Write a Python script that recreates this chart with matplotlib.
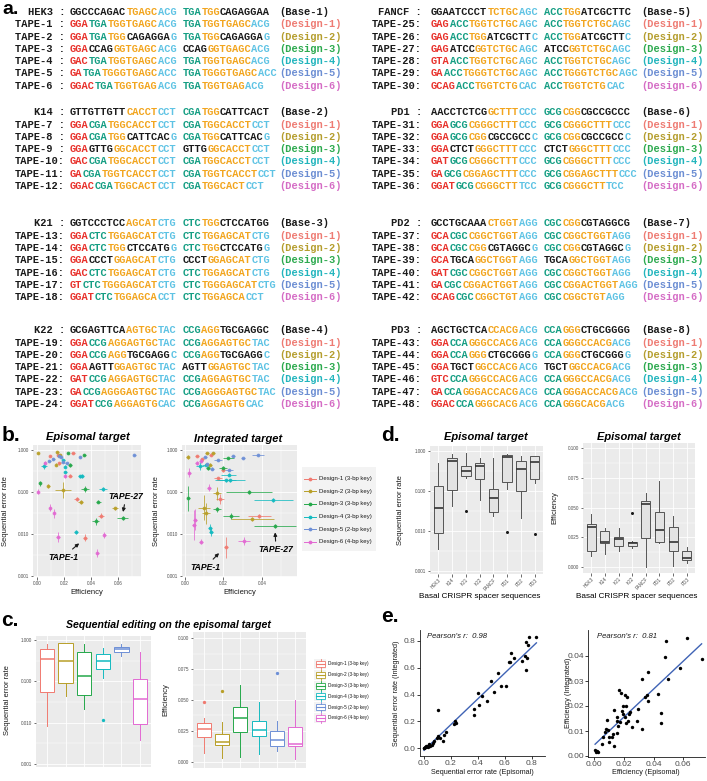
import numpy as np
import matplotlib
matplotlib.use('Agg')
import matplotlib.pyplot as plt
from matplotlib.patches import Rectangle
from matplotlib.ticker import NullFormatter

W, H = 707, 781
fig = plt.figure(figsize=(W / 100, H / 100), dpi=100)
fig.patch.set_facecolor('white')
SANS = 'Liberation Sans'
MONO = 'Liberation Mono'

# ---------------- data ----------------
design_labels = ['Design-1 (3-bp key)', 'Design-2 (3-bp key)', 'Design-3 (3-bp key)',
                 'Design-4 (3-bp key)', 'Design-5 (2-bp key)', 'Design-6 (4-bp key)']
design_colors = ['#F07A70', '#B89F28', '#25A84A', '#14BAC0', '#6D8FD6', '#E269D2']
label_colors = ['#EE7B73', '#B59E2E', '#2DAA4F', '#22B5BD', '#6C8ED3', '#D56CC5']
seq_colors = {'k': '#1a1a1a', 'r': '#E8312B', 't': '#159E83', 'o': '#F2A51E', 'b': '#5FC3E4'}
bases = ['HEK3', 'K14', 'K21', 'K22', 'FANCF', 'PD1', 'PD2', 'PD3']

block_HEK3 = [
    ("HEK3", "kGGCCCAGAC oTGAGC bACG", "tTGA oTGG kCAGAGGAA", "Base-1"),
    ("TAPE-1", "rGGA tTGA oTGGTGAGC bACG", "tTGA oTGGTGAGC bACG", "Design-1"),
    ("TAPE-2", "rGGA tTGA oTGG kCAGAGGA bG", "tTGA oTGG kCAGAGGA bG", "Design-2"),
    ("TAPE-3", "rGGA kCCAG oGGTGAGC bACG", "kCCAG oGGTGAGC bACG", "Design-3"),
    ("TAPE-4", "rGAC tTGA oTGGTGAGC bACG", "tTGA oTGGTGAGC bACG", "Design-4"),
    ("TAPE-5", "rGA tTGA oTGGGTGAGC bACC", "tTGA oTGGGTGAGC bACC", "Design-5"),
    ("TAPE-6", "rGGAC tTGA oTGGTGAG bACG", "tTGA oTGGTGAG bACG", "Design-6")]
block_K14 = [
    ("K14", "kGTTGTTGTT oCACCT bCCT", "tCGA oTGG kCATTCACT", "Base-2"),
    ("TAPE-7", "rGGA tCGA oTGGCACCT bCCT", "tCGA oTGGCACCT bCCT", "Design-1"),
    ("TAPE-8", "rGGA tCGA oTGG kCATTCAC bG", "tCGA oTGG kCATTCAC bG", "Design-2"),
    ("TAPE-9", "rGGA kGTTG oGGCACCT bCCT", "kGTTG oGGCACCT bCCT", "Design-3"),
    ("TAPE-10", "rGAC tCGA oTGGCACCT bCCT", "tCGA oTGGCACCT bCCT", "Design-4"),
    ("TAPE-11", "rGA tCGA oTGGTCACCT bCCT", "tCGA oTGGTCACCT bCCT", "Design-5"),
    ("TAPE-12", "rGGAC tCGA oTGGCACT bCCT", "tCGA oTGGCACT bCCT", "Design-6")]
block_K21 = [
    ("K21", "kGGTCCCTCC oAGCAT bCTG", "tCTC oTGG kCTCCATGG", "Base-3"),
    ("TAPE-13", "rGGA tCTC oTGGAGCAT bCTG", "tCTC oTGGAGCAT bCTG", "Design-1"),
    ("TAPE-14", "rGGA tCTC oTGG kCTCCATG bG", "tCTC oTGG kCTCCATG bG", "Design-2"),
    ("TAPE-15", "rGGA kCCCT oGGAGCAT bCTG", "kCCCT oGGAGCAT bCTG", "Design-3"),
    ("TAPE-16", "rGAC tCTC oTGGAGCAT bCTG", "tCTC oTGGAGCAT bCTG", "Design-4"),
    ("TAPE-17", "rGT tCTC oTGGGAGCAT bCTG", "tCTC oTGGGAGCAT bCTG", "Design-5"),
    ("TAPE-18", "rGGAT tCTC oTGGAGCA bCCT", "tCTC oTGGAGCA bCCT", "Design-6")]
block_K22 = [
    ("K22", "kGCGAGTTCA oAGTGC bTAC", "tCCG oAGG kTGCGAGGC", "Base-4"),
    ("TAPE-19", "rGGA tCCG oAGGAGTGC bTAC", "tCCG oAGGAGTGC bTAC", "Design-1"),
    ("TAPE-20", "rGGA tCCG oAGG kTGCGAGG bC", "tCCG oAGG kTGCGAGG bC", "Design-2"),
    ("TAPE-21", "rGGA kAGTT oGGAGTGC bTAC", "kAGTT oGGAGTGC bTAC", "Design-3"),
    ("TAPE-22", "rGAT tCCG oAGGAGTGC bTAC", "tCCG oAGGAGTGC bTAC", "Design-4"),
    ("TAPE-23", "rGA tCCG oAGGGAGTGC bTAC", "tCCG oAGGGAGTGC bTAC", "Design-5"),
    ("TAPE-24", "rGGAT tCCG oAGGAGTG bCAC", "tCCG oAGGAGTG bCAC", "Design-6")]
block_FANCF = [
    ("FANCF", "kGGAATCCCT oTCTGC bAGC", "tACC oTGG kATCGCTTC", "Base-5"),
    ("TAPE-25", "rGAG tACC oTGGTCTGC bAGC", "tACC oTGGTCTGC bAGC", "Design-1"),
    ("TAPE-26", "rGAG tACC oTGG kATCGCTT bC", "tACC oTGG kATCGCTT bC", "Design-2"),
    ("TAPE-27", "rGAG kATCC oGGTCTGC bAGC", "kATCC oGGTCTGC bAGC", "Design-3"),
    ("TAPE-28", "rGTA tACC oTGGTCTGC bAGC", "tACC oTGGTCTGC bAGC", "Design-4"),
    ("TAPE-29", "rGA tACC oTGGGTCTGC bAGC", "tACC oTGGGTCTGC bAGC", "Design-5"),
    ("TAPE-30", "rGCAG tACC oTGGTCTG bCAC", "tACC oTGGTCTG bCAC", "Design-6")]
block_PD1 = [
    ("PD1", "kAACCTCTCG oGCTTT bCCC", "tGCG oCGG kCGCCGCCC", "Base-6"),
    ("TAPE-31", "rGGA tGCG oCGGGCTTT bCCC", "tGCG oCGGGCTTT bCCC", "Design-1"),
    ("TAPE-32", "rGGA tGCG oCGG kCGCCGCC bC", "tGCG oCGG kCGCCGCC bC", "Design-2"),
    ("TAPE-33", "rGGA kCTCT oGGGCTTT bCCC", "kCTCT oGGGCTTT bCCC", "Design-3"),
    ("TAPE-34", "rGAT tGCG oCGGGCTTT bCCC", "tGCG oCGGGCTTT bCCC", "Design-4"),
    ("TAPE-35", "rGA tGCG oCGGAGCTTT bCCC", "tGCG oCGGAGCTTT bCCC", "Design-5"),
    ("TAPE-36", "rGGAT tGCG oCGGGCTT bTCC", "tGCG oCGGGCTT bTCC", "Design-6")]
block_PD2 = [
    ("PD2", "kGCCTGCAAA oCTGGT bAGG", "tCGC oCGG kCGTAGGCG", "Base-7"),
    ("TAPE-37", "rGCA tCGC oCGGCTGGT bAGG", "tCGC oCGGCTGGT bAGG", "Design-1"),
    ("TAPE-38", "rGCA tCGC oCGG kCGTAGGC bG", "tCGC oCGG kCGTAGGC bG", "Design-2"),
    ("TAPE-39", "rGCA kTGCA oGGCTGGT bAGG", "kTGCA oGGCTGGT bAGG", "Design-3"),
    ("TAPE-40", "rGAT tCGC oCGGCTGGT bAGG", "tCGC oCGGCTGGT bAGG", "Design-4"),
    ("TAPE-41", "rGA tCGC oCGGACTGGT bAGG", "tCGC oCGGACTGGT bAGG", "Design-5"),
    ("TAPE-42", "rGCAG tCGC oCGGCTGT bAGG", "tCGC oCGGCTGT bAGG", "Design-6")]
block_PD3 = [
    ("PD3", "kAGCTGCTCA oCCACG bACG", "tCCA oGGG kCTGCGGGG", "Base-8"),
    ("TAPE-43", "rGGA tCCA oGGGCCACG bACG", "tCCA oGGGCCACG bACG", "Design-1"),
    ("TAPE-44", "rGGA tCCA oGGG kCTGCGGG bG", "tCCA oGGG kCTGCGGG bG", "Design-2"),
    ("TAPE-45", "rGGA kTGCT oGGCCACG bACG", "kTGCT oGGCCACG bACG", "Design-3"),
    ("TAPE-46", "rGTC tCCA oGGGCCACG bACG", "tCCA oGGGCCACG bACG", "Design-4"),
    ("TAPE-47", "rGA tCCA oGGGACCACG bACG", "tCCA oGGGACCACG bACG", "Design-5"),
    ("TAPE-48", "rGGAC tCCA oGGGCACG bACG", "tCCA oGGGCACG bACG", "Design-6")]

# panel b: per design (8 targets each): efficiency, error rate, x-error, y-error (log10 units)
epi_eff = [[0.0356, 0.0096, 0.0158, 0.0264, 0.0166, 0.0244, 0.0294, 0.0474],
           [0.001, 0.015, 0.0084, 0.019, 0.0323, 0.0578, 0.014, 0.017],
           [0.023, 0.0244, 0.0351, 0.0022, 0.0635, 0.0356, 0.0454, 0.0435],
           [0.0052, 0.0195, 0.0207, 0.0331, 0.0486, 0.029, 0.0315, 0.021],
           [0.0091, 0.0178, 0.019, 0.0319, 0.072, 0.012, 0.022, 0.016],
           [0.006, 0.0207, 0.0005, 0.0096, 0.0126, 0.0153, 0.0499, 0.0447]]
epi_err = [[0.0082, 0.73, 0.77, 0.83, 0.48, 0.245, 0.067, 0.0275],
           [0.83, 0.88, 0.139, 0.112, 0.059, 0.041, 0.45, 0.75],
           [0.83, 0.44, 0.77, 0.16, 0.024, 0.118, 0.059, 0.020],
           [0.42, 0.58, 0.40, 0.24, 0.116, 0.0114, 0.235, 0.30],
           [0.55, 0.67, 0.53, 0.69, 0.77, 0.62, 0.48, 0.72],
           [0.50, 0.24, 0.102, 0.042, 0.031, 0.0087, 0.0095, 0.0035]]
epi_xerr = [[0.0015, 0.001, 0.001, 0.0015, 0.001, 0.0015, 0.002, 0.002],
            [0.0008, 0.001, 0.001, 0.006, 0.002, 0.002, 0.001, 0.001],
            [0.001, 0.0015, 0.001, 0.001, 0.004, 0.003, 0.002, 0.0025],
            [0.002, 0.001, 0.001, 0.0015, 0.003, 0.0015, 0.0015, 0.001],
            [0.001, 0.001, 0.001, 0.001, 0.001, 0.001, 0.001, 0.001],
            [0.0008, 0.001, 0.0008, 0.001, 0.001, 0.0015, 0.001, 0.001]]
epi_yerr = [[0.08, 0.02, 0.02, 0.02, 0.03, 0.03, 0.05, 0.05],
            [0.02, 0.02, 0.04, 0.2, 0.05, 0.04, 0.03, 0.02],
            [0.02, 0.04, 0.02, 0.06, 0.04, 0.08, 0.04, 0.08],
            [0.08, 0.03, 0.03, 0.04, 0.05, 0.05, 0.03, 0.03],
            [0.03, 0.02, 0.03, 0.02, 0.02, 0.02, 0.02, 0.02],
            [0.04, 0.05, 0.06, 0.08, 0.1, 0.12, 0.08, 0.1]]
int_eff = [[0.0213, 0.0061, 0.0133, 0.0196, 0.0173, 0.0182, 0.0386, 0.009],
           [0.0014, 0.0113, 0.0147, 0.0168, 0.010, 0.0109, 0.035, 0.013],
           [0.0196, 0.0225, 0.0017, 0.0165, 0.0468, 0.0334, 0.0239, 0.012],
           [0.0078, 0.0109, 0.0227, 0.0234, 0.0215, 0.0459, 0.013, 0.0135],
           [0.0104, 0.0114, 0.0139, 0.0173, 0.023, 0.0251, 0.0303, 0.038],
           [0.0083, 0.0022, 0.0126, 0.0048, 0.0052, 0.0085, 0.0308, 0.006]]
int_err = [[0.0048, 0.71, 0.77, 0.33, 0.21, 0.067, 0.027, 0.60],
           [0.69, 0.83, 0.85, 0.093, 0.042, 0.031, 0.023, 0.45],
           [0.38, 0.64, 0.071, 0.039, 0.0155, 0.098, 0.027, 0.37],
           [0.42, 0.44, 0.26, 0.19, 0.19, 0.064, 0.0137, 0.011],
           [0.69, 0.47, 0.36, 0.57, 0.33, 0.71, 0.63, 0.77],
           [0.55, 0.29, 0.127, 0.0163, 0.022, 0.0066, 0.0069, 0.48]]
int_xerr = [[0.001, 0.001, 0.001, 0.001, 0.002, 0.002, 0.006, 0.001],
            [0.0008, 0.001, 0.001, 0.002, 0.003, 0.002, 0.011, 0.001],
            [0.002, 0.003, 0.0008, 0.002, 0.011, 0.012, 0.004, 0.001],
            [0.002, 0.002, 0.004, 0.008, 0.005, 0.010, 0.001, 0.001],
            [0.001, 0.001, 0.001, 0.002, 0.002, 0.001, 0.001, 0.003],
            [0.001, 0.0008, 0.001, 0.001, 0.001, 0.001, 0.003, 0.001]]
int_yerr = [[0.25, 0.02, 0.02, 0.04, 0.04, 0.12, 0.05, 0.03],
            [0.05, 0.02, 0.02, 0.15, 0.3, 0.25, 0.05, 0.03],
            [0.04, 0.02, 0.3, 0.06, 0.04, 0.05, 0.08, 0.04],
            [0.1, 0.03, 0.03, 0.03, 0.03, 0.04, 0.1, 0.1],
            [0.02, 0.03, 0.03, 0.02, 0.03, 0.02, 0.02, 0.02],
            [0.05, 0.1, 0.08, 0.35, 0.25, 0.05, 0.1, 0.05]]

# panel c: box statistics per design (episomal)
c_err_stats = {'whislo': [0.0085, 0.043, 0.021, 0.118, 0.42, 0.0038],
               'q1': [0.055, 0.093, 0.048, 0.195, 0.51, 0.0091],
               'med': [0.34, 0.31, 0.137, 0.31, 0.60, 0.0367],
               'q3': [0.59, 0.83, 0.52, 0.47, 0.69, 0.114],
               'whishi': [0.79, 0.83, 0.82, 0.63, 0.79, 0.52],
               'fliers': [[], [], [], [0.0116], [], []]}
c_eff_stats = {'whislo': [0.0072, 0.0027, 0.0037, 0.0067, 0.0086, 0.0019],
               'q1': [0.020, 0.0139, 0.024, 0.0206, 0.013, 0.0126],
               'med': [0.0265, 0.0163, 0.0358, 0.026, 0.0174, 0.0147],
               'q3': [0.0313, 0.0227, 0.044, 0.0334, 0.025, 0.0278],
               'whishi': [0.0358, 0.0326, 0.062, 0.0487, 0.033, 0.0497],
               'fliers': [[0.048], [0.057], [], [], [0.072], []]}

# panel d: box statistics per basal spacer (episomal)
d_err_stats = {'whislo': [0.0036, 0.041, 0.21, 0.059, 0.024, 0.11, 0.021, 0.16],
               'q1': [0.0087, 0.104, 0.236, 0.20, 0.030, 0.166, 0.098, 0.20],
               'med': [0.037, 0.57, 0.32, 0.42, 0.066, 0.69, 0.35, 0.54],
               'q3': [0.13, 0.65, 0.42, 0.49, 0.11, 0.78, 0.56, 0.75],
               'whishi': [0.50, 0.82, 0.87, 0.65, 0.68, 0.82, 0.76, 0.76],
               'fliers': [[], [], [0.032], [], [], [0.0094], [], [0.0084]]}
d_eff_stats = {'whislo': [0.0095, 0.0112, 0.0137, 0.0162, 0.0006, 0.020, 0.0012, 0.0036],
               'q1': [0.014, 0.0202, 0.0182, 0.018, 0.0249, 0.0216, 0.0137, 0.0065],
               'med': [0.0336, 0.0216, 0.0235, 0.0202, 0.0532, 0.0314, 0.0216, 0.0075],
               'q3': [0.0364, 0.030, 0.0258, 0.0213, 0.0557, 0.0462, 0.0336, 0.0138],
               'whishi': [0.0448, 0.0328, 0.0328, 0.0224, 0.062, 0.072, 0.0434, 0.0168],
               'fliers': [[], [], [], [0.0454], [], [], [], []]}

# panel e: episomal vs integrated
e_err_epi = [0.835, 0.78, 0.76, 0.77, 0.65, 0.63, 0.64, 0.67, 0.73, 0.75, 0.765, 0.76, 0.55, 0.50,
             0.52, 0.57, 0.61, 0.47, 0.43, 0.40, 0.41, 0.37, 0.37, 0.23, 0.235, 0.22, 0.106, 0.14,
             0.15, 0.16, 0.106, 0.118, 0.094, 0.072, 0.037, 0.057, 0.02, 0.012, 0.027, 0.044,
             0.002, 0.007, 0.07, 0.015, 0.0]
e_err_int = [0.83, 0.83, 0.79, 0.77, 0.706, 0.64, 0.645, 0.67, 0.65, 0.69, 0.674, 0.58, 0.56, 0.50,
             0.42, 0.46, 0.46, 0.355, 0.39, 0.41, 0.32, 0.29, 0.25, 0.205, 0.186, 0.18, 0.285, 0.057,
             0.099, 0.12, 0.094, 0.08, 0.08, 0.055, 0.032, 0.025, 0.017, 0.007, 0.012, 0.02,
             0.005, 0.01, 0.037, 0.015, 0.005]
e_eff_epi = [0.0624, 0.0484, 0.0477, 0.0725, 0.0579, 0.05, 0.036, 0.0324, 0.0354, 0.0342, 0.036,
             0.0428, 0.0448, 0.0448, 0.0324, 0.0286, 0.0293, 0.0241, 0.0214, 0.0218, 0.0207, 0.0167,
             0.018, 0.0191, 0.0185, 0.0196, 0.0207, 0.0234, 0.0252, 0.0212, 0.0225, 0.0173, 0.0155,
             0.0151, 0.0162, 0.0133, 0.0122, 0.0151, 0.0128, 0.0095, 0.0101, 0.0088, 0.0077, 0.0072,
             0.0061, 0.0099, 0.0135, 0.005, 0.0005, 0.0014, 0.0027, 0.002]
e_eff_int = [0.0473, 0.0461, 0.0395, 0.0387, 0.0353, 0.0308, 0.0337, 0.0308, 0.0244, 0.0237, 0.0221,
             0.0247, 0.0171, 0.0133, 0.011, 0.014, 0.0188, 0.0177, 0.0201, 0.0237, 0.0244, 0.0264,
             0.0253, 0.0201, 0.018, 0.0167, 0.0157, 0.0167, 0.0117, 0.0131, 0.014, 0.0135, 0.0157,
             0.014, 0.0121, 0.0184, 0.0077, 0.0091, 0.0088, 0.0104, 0.0077, 0.0144, 0.0108, 0.0097,
             0.0077, 0.0055, 0.004, 0.0047, 0.0024, 0.0017, 0.0017, 0.002]
pearson_err = "Pearson's r:  0.98"
pearson_eff = "Pearson's r:  0.81"

# ---------------- helpers ----------------
def px_rect(x0, y0, x1, y1):
    return [x0 / W, 1 - y1 / H, (x1 - x0) / W, (y1 - y0) / H]

ov = fig.add_axes([0, 0, 1, 1], zorder=10)
ov.set_xlim(0, W)
ov.set_ylim(H, 0)
ov.axis('off')

def otext(x, y, s, **kw):
    kw.setdefault('family', SANS)
    ov.text(x, y, s, **kw)

def gg_panel(ax, fs=3.3):
    ax.set_facecolor('#EBEBEB')
    for s in ax.spines.values():
        s.set_visible(False)
    ax.set_axisbelow(True)
    ax.tick_params(which='major', length=1.8, width=0.5, color='#333333', labelsize=fs,
                   labelcolor='#4D4D4D', pad=0.8)
    ax.tick_params(which='minor', length=0)
    ax.grid(which='major', color='white', lw=0.6)
    ax.grid(which='minor', color='white', lw=0.3)
    for lab in ax.get_xticklabels() + ax.get_yticklabels():
        lab.set_family(SANS)

def log_y(ax, lo, hi):
    ax.set_yscale('log')
    ax.set_ylim(lo, hi)
    ax.set_yticks([0.001, 0.01, 0.1, 1.0])
    ax.set_yticklabels(['0.001', '0.010', '0.100', '1.000'])
    ax.set_yticks([10 ** -2.5, 10 ** -1.5, 10 ** -0.5], minor=True)
    ax.yaxis.set_minor_formatter(NullFormatter())

# ---------------- panel a ----------------
CW = 6.27
SEQ_FS = 7.5
block_y = [11.7, 112, 223, 330]
ROW = 12.3
left_blocks = [block_HEK3, block_K14, block_K21, block_K22]
right_blocks = [block_FANCF, block_PD1, block_PD2, block_PD3]
col_pos = [(15, 70, 182.5, 279), (372, 431, 543.5, 641)]

def draw_markup(x, y, markup):
    col = 0
    for tok in markup.split():
        c, s = tok[0], tok[1:]
        ov.text(x + col * CW, y, s, color=seq_colors[c], fontsize=SEQ_FS, family=MONO,
                weight='bold', va='baseline', ha='left')
        col += len(s)

for side, blocks in enumerate([left_blocks, right_blocks]):
    xn, xs1, xs2, xl = col_pos[side]
    for bi, block in enumerate(blocks):
        for ri, (name, s1, s2, lab) in enumerate(block):
            yb = block_y[bi] + ri * ROW + 3.3
            if ri == 0:
                nm = name.rjust(6) + ' :'
                lc = '#1a1a1a'
            else:
                nm = name.ljust(7) + ':'
                lc = label_colors[int(lab.split('-')[1]) - 1]
            lead = len(nm) - len(nm.lstrip())
            ov.text(xn + lead * CW, yb, nm.lstrip(), color='#1a1a1a', fontsize=SEQ_FS,
                    family=MONO, weight='bold', va='baseline')
            draw_markup(xs1, yb, s1)
            draw_markup(xs2, yb, s2)
            ov.text(xl, yb, '(' + lab + ')', color=lc, fontsize=SEQ_FS, family=MONO,
                    weight='bold', va='baseline')

# panel letters
for s, x, y, fs in [('a.', 2, 14, 14), ('b.', 2, 441, 15), ('c.', 1, 626, 15),
                    ('d.', 381, 441, 15), ('e.', 381, 622, 15)]:
    otext(x, y, s, fontsize=fs, weight='bold', va='baseline')

# ---------------- panel b ----------------
def pointrange(ax, effs, errs, xerrs, yerrs):
    for d in range(6):
        x = np.array(effs[d]); y = np.array(errs[d])
        ye = np.array(yerrs[d])
        lo = y - y * 10 ** (-ye)
        hi = y * 10 ** ye - y
        ax.errorbar(x, y, xerr=xerrs[d], yerr=[lo, hi], fmt='o', color=design_colors[d],
                    ms=2.7, mew=0, elinewidth=0.6, capsize=0, alpha=0.9)

axb1 = fig.add_axes(px_rect(33, 445, 141, 577))
gg_panel(axb1)
log_y(axb1, 10 ** (-3 - 1 / 42), 10 ** (5 / 42))
axb1.set_xlim(-0.00296, 0.077)
axb1.set_xticks([0.0, 0.02, 0.04, 0.06])
axb1.set_xticklabels(['0.00', '0.02', '0.04', '0.06'])
axb1.set_xticks([0.01, 0.03, 0.05, 0.07], minor=True)
pointrange(axb1, epi_eff, epi_err, epi_xerr, epi_yerr)
ann = dict(fontsize=6.2, weight='bold', style='italic', family=SANS, ha='center', va='center')
arr = dict(arrowstyle='-|>', color='#1a1a1a', lw=0.8, mutation_scale=5, shrinkA=1, shrinkB=1)
axb1.annotate('TAPE-27', xy=(0.0635, 0.031), xytext=(0.066, 0.080), arrowprops=arr, **ann)
axb1.annotate('TAPE-1', xy=(0.032, 0.0063), xytext=(0.0193, 0.0028), arrowprops=arr, **ann)

axb2 = fig.add_axes(px_rect(182, 445, 297, 577))
gg_panel(axb2)
log_y(axb2, 10 ** (-3 - 1 / 42), 10 ** (5 / 42))
axb2.set_xlim(-0.00156, 0.0582)
axb2.set_xticks([0.0, 0.02, 0.04])
axb2.set_xticklabels(['0.00', '0.02', '0.04'])
axb2.set_xticks([0.01, 0.03, 0.05], minor=True)
pointrange(axb2, int_eff, int_err, int_xerr, int_yerr)
axb2.annotate('TAPE-1', xy=(0.0182, 0.0037), xytext=(0.0104, 0.0016), arrowprops=arr, **ann)
axb2.annotate('TAPE-27', xy=(0.0468, 0.0118), xytext=(0.0473, 0.0042), arrowprops=arr, **ann)

ttl = dict(fontsize=8, weight='bold', style='italic', ha='center', va='center')
otext(88, 437, 'Episomal target', **ttl)
otext(238, 439, 'Integrated target', **ttl)
lab = dict(fontsize=5.5, ha='center', va='center', color='#1a1a1a')
otext(6, 511, 'Sequential error rate', rotation=90, **lab)
otext(157, 511, 'Sequential error rate', rotation=90, **lab)
otext(87, 592, 'Efficiency', **lab)
otext(240, 593, 'Efficiency', **lab)

# legend b
ov.add_patch(Rectangle((302, 467), 74, 84, color='#F3F3F3', lw=0, zorder=1))
for i in range(6):
    yy = 478.5 + 12.7 * i
    ov.plot([304, 316], [yy, yy], color=design_colors[i], lw=0.7, zorder=2)
    ov.plot([310], [yy], 'o', color=design_colors[i], ms=2.7, mew=0, zorder=3)
    otext(319, yy, design_labels[i], fontsize=4.3, va='center', color='#1a1a1a')

# ---------------- panel c ----------------
def make_stats(st, i):
    return dict(whislo=st['whislo'][i], q1=st['q1'][i], med=st['med'][i], q3=st['q3'][i],
                whishi=st['whishi'][i], fliers=st['fliers'][i])

def color_boxes(ax, stats, colors, width, face):
    n = len(stats)
    bp = ax.bxp(stats, positions=range(1, n + 1), widths=width, patch_artist=True,
                showcaps=False, manage_ticks=False)
    for i in range(n):
        c = colors[i]
        bp['boxes'][i].set(facecolor=face, edgecolor=c, lw=0.7)
        bp['medians'][i].set(color=c, lw=1.1)
        for w in bp['whiskers'][2 * i:2 * i + 2]:
            w.set(color=c, lw=0.7)
        bp['fliers'][i].set(marker='o', markerfacecolor=c, markeredgecolor=c, markersize=2.4,
                            mew=0)
    return bp

axc1 = fig.add_axes(px_rect(36, 636, 151, 767))
gg_panel(axc1)
log_y(axc1, 10 ** (-3 - 3 / 41.3), 10 ** (4 / 41.3))
axc1.set_xlim(0.4, 6.6)
axc1.set_xticks(range(1, 7))
axc1.tick_params(axis='x', length=0, labelbottom=False)
color_boxes(axc1, [make_stats(c_err_stats, i) for i in range(6)], design_colors, 0.78, 'white')

axc2 = fig.add_axes(px_rect(193, 632, 306, 768))
gg_panel(axc2)
axc2.set_ylim(-0.005, 0.105)
axc2.set_yticks([0.0, 0.025, 0.05, 0.075, 0.1])
axc2.set_yticklabels(['0.000', '0.025', '0.050', '0.075', '0.100'])
axc2.set_yticks([0.0125, 0.0375, 0.0625, 0.0875], minor=True)
axc2.set_xlim(0.4, 6.6)
axc2.set_xticks(range(1, 7))
axc2.tick_params(axis='x', length=0, labelbottom=False)
color_boxes(axc2, [make_stats(c_eff_stats, i) for i in range(6)], design_colors, 0.78, 'white')

otext(168, 625, 'Sequential editing on the episomal target', fontsize=7.6, weight='bold',
      style='italic', ha='center', va='center')
otext(8, 700, 'Sequential error rate', rotation=90, **lab)
otext(166, 700, 'Efficiency', rotation=90, **lab)

# legend c
for i in range(6):
    yy = 664 + 10.8 * i
    ov.add_patch(Rectangle((314, yy - 5), 12, 10, color='#F3F3F3', lw=0, zorder=1))
    ov.add_patch(Rectangle((316, yy - 3), 9, 6, facecolor='white', edgecolor=design_colors[i],
                           lw=0.6, zorder=2))
    ov.plot([316, 325], [yy, yy], color=design_colors[i], lw=0.8, zorder=3)
    ov.plot([320.5, 320.5], [yy - 5, yy - 3], color=design_colors[i], lw=0.6, zorder=3)
    ov.plot([320.5, 320.5], [yy + 3, yy + 5], color=design_colors[i], lw=0.6, zorder=3)
    otext(328, yy, design_labels[i], fontsize=3.3, va='center', color='#1a1a1a')

# ---------------- panel d ----------------
def gray_boxes(ax, stats):
    bp = ax.bxp(stats, positions=range(1, 9), widths=0.68, patch_artist=True, showcaps=False,
                manage_ticks=False)
    for b in bp['boxes']:
        b.set(facecolor='#E3E3E3', edgecolor='#555555', lw=0.7)
    for m in bp['medians']:
        m.set(color='#333333', lw=1.2)
    for w in bp['whiskers']:
        w.set(color='#555555', lw=0.7)
    for f in bp['fliers']:
        f.set(marker='o', markerfacecolor='#1a1a1a', markeredgecolor='#1a1a1a', markersize=2.2,
              mew=0)

def base_ticks(ax):
    ax.set_xlim(0.4, 8.6)
    ax.set_xticks(range(1, 9))
    ax.set_xticklabels(bases, rotation=45, ha='right', rotation_mode='anchor', fontsize=3.3,
                       family=SANS)

axd1 = fig.add_axes(px_rect(430, 446, 543, 574))
gg_panel(axd1)
log_y(axd1, 10 ** (-3 - 3.3 / 39.9), 10 ** (5 / 39.9))
base_ticks(axd1)
gray_boxes(axd1, [make_stats(d_err_stats, i) for i in range(8)])

axd2 = fig.add_axes(px_rect(583, 443, 695, 573))
gg_panel(axd2)
axd2.set_ylim(-0.0048, 0.1042)
axd2.set_yticks([0.0, 0.025, 0.05, 0.075, 0.1])
axd2.set_yticklabels(['0.000', '0.025', '0.050', '0.075', '0.100'])
axd2.set_yticks([0.0125, 0.0375, 0.0625, 0.0875], minor=True)
base_ticks(axd2)
gray_boxes(axd2, [make_stats(d_eff_stats, i) for i in range(8)])

otext(486, 437, 'Episomal target', **ttl)
otext(639, 437, 'Episomal target', **ttl)
otext(401, 510, 'Sequential error rate', rotation=90, **lab)
otext(555, 508, 'Efficiency', rotation=90, **lab)
otext(480, 597, 'Basal CRISPR spacer sequences', fontsize=5.9, ha='center', va='center')
otext(637, 597, 'Basal CRISPR spacer sequences', fontsize=5.9, ha='center', va='center')

# ---------------- panel e ----------------
def classic(ax):
    ax.set_facecolor('white')
    ax.spines['top'].set_visible(False)
    ax.spines['right'].set_visible(False)
    for s in ['left', 'bottom']:
        ax.spines[s].set_linewidth(0.6)
        ax.spines[s].set_color('#1a1a1a')
    ax.tick_params(length=2, width=0.6, color='#1a1a1a', labelsize=6, labelcolor='#4D4D4D',
                   pad=1)
    for lab_ in ax.get_xticklabels() + ax.get_yticklabels():
        lab_.set_family(SANS)

def scatter_fit(ax, x, y):
    x = np.array(x); y = np.array(y)
    ax.scatter(x, y, s=6, color='black', lw=0, zorder=3)
    k, b0 = np.polyfit(x, y, 1)
    xs = np.array([x.min(), x.max()])
    ax.plot(xs, k * xs + b0, color='#3F63B5', lw=1.0, zorder=2)

axe1 = fig.add_axes(px_rect(420, 630, 545, 756))
axe1.set_xlim(-0.0297, 0.899)
axe1.set_ylim(-0.057, 0.88)
axe1.set_xticks([0, 0.2, 0.4, 0.6, 0.8])
axe1.set_xticklabels(['0.0', '0.2', '0.4', '0.6', '0.8'])
axe1.set_yticks([0, 0.2, 0.4, 0.6, 0.8])
axe1.set_yticklabels(['0.0', '0.2', '0.4', '0.6', '0.8'])
classic(axe1)
scatter_fit(axe1, e_err_epi, e_err_int)

axe2 = fig.add_axes(px_rect(588, 630, 705, 757))
axe2.set_xlim(-0.0043, 0.0748)
axe2.set_ylim(-0.0004, 0.0504)
axe2.set_xticks([0, 0.02, 0.04, 0.06])
axe2.set_xticklabels(['0.00', '0.02', '0.04', '0.06'])
axe2.set_yticks([0, 0.01, 0.02, 0.03, 0.04])
axe2.set_yticklabels(['0.00', '0.01', '0.02', '0.03', '0.04'])
classic(axe2)
scatter_fit(axe2, e_eff_epi, e_eff_int)

otext(427, 636, pearson_err, fontsize=5.6, style='italic', va='center', color='#1a1a1a')
otext(597, 636, pearson_eff, fontsize=5.6, style='italic', va='center', color='#1a1a1a')
elab = dict(fontsize=5.2, ha='center', va='center', color='#1a1a1a')
otext(397, 693, 'Sequential error rate (Integrated)', rotation=90, **elab)
otext(482, 773, 'Sequential error rate (Episomal)', **elab)
otext(568, 693, 'Efficiency (Integrated)', rotation=90, **elab)
otext(646, 773, 'Efficiency (Episomal)', **elab)

fig.savefig('out.png', dpi=100)
